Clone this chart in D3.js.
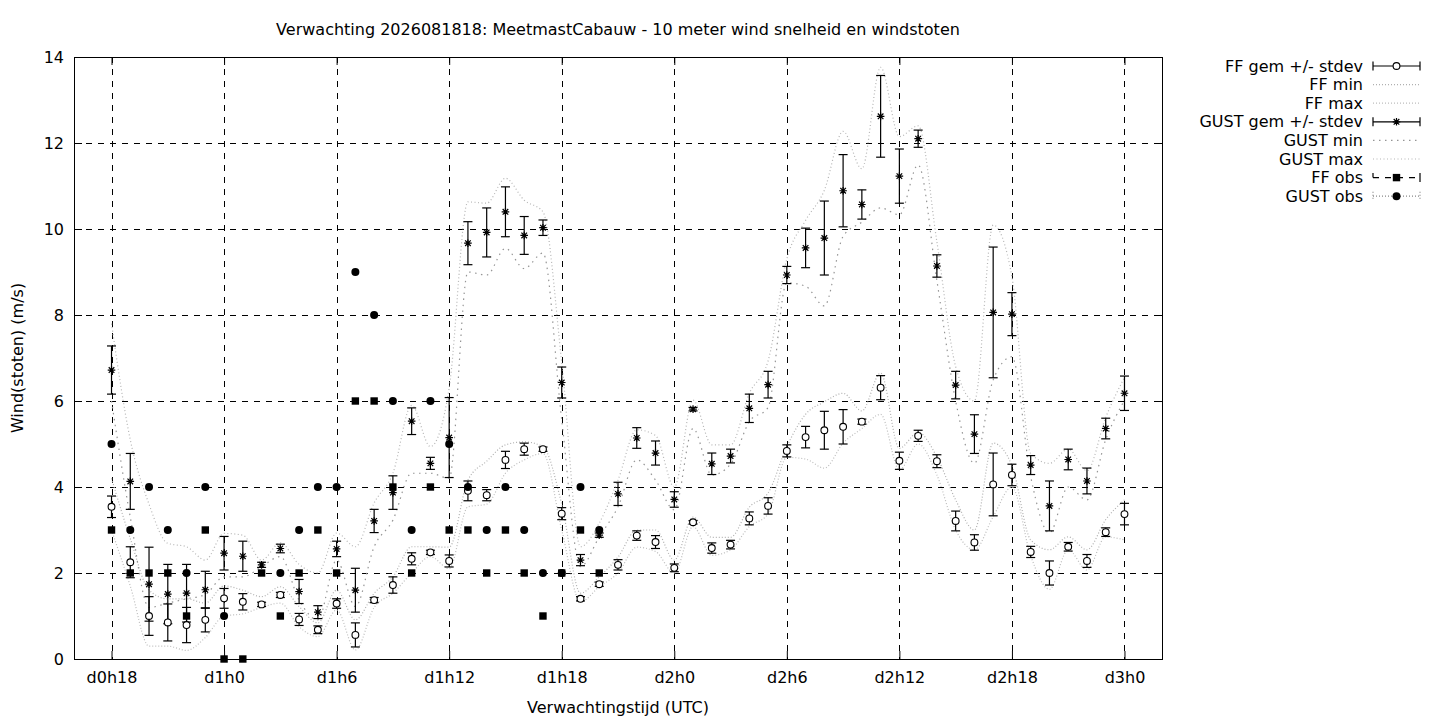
<!DOCTYPE html>
<html><head><meta charset="utf-8">
<script src="https://cdn.jsdelivr.net/npm/d3@7"></script>
<style>
body{margin:0;background:#fff}
svg{display:block}
text{font-family:"DejaVu Sans",sans-serif;fill:#000}
</style>
</head><body>
<svg id="c" width="1440" height="720"></svg>
<script>
// ---- data (hours since d0h0) ----
const hours = [18,19,20,21,22,23,24,25,26,27,28,29,30,31,32,33,34,35,36,37,38,39,40,41,42,43,44,45,46,47,48,49,50,51,52,53,54,55,56,57,58,59,60,61,62,63,64,65,66,67,68,69,70,71,72];
const ffMean = [3.54,2.25,1.00,0.85,0.79,0.91,1.41,1.33,1.27,1.49,0.92,0.68,1.29,0.56,1.37,1.72,2.33,2.48,2.28,3.91,3.81,4.63,4.88,4.88,3.38,1.40,1.74,2.19,2.87,2.72,2.12,3.18,2.58,2.66,3.27,3.56,4.84,5.16,5.32,5.40,5.52,6.31,4.61,5.19,4.60,3.21,2.71,4.06,4.28,2.49,2.00,2.61,2.28,2.95,3.37];
const ffSd   = [0.25,0.36,0.45,0.43,0.41,0.28,0.23,0.19,0.05,0.06,0.14,0.09,0.11,0.28,0.06,0.19,0.14,0.05,0.14,0.23,0.13,0.20,0.14,0.05,0.14,0.05,0.05,0.12,0.11,0.15,0.09,0.04,0.12,0.10,0.15,0.19,0.14,0.25,0.44,0.40,0.06,0.28,0.20,0.13,0.15,0.23,0.18,0.73,0.25,0.13,0.28,0.10,0.15,0.10,0.25];
const ffMin  = [3.0,1.7,0.3,0.3,0.2,0.5,1.0,1.05,1.2,1.3,0.75,0.52,1.14,0.21,1.2,1.53,2.0,2.38,2.1,3.54,3.6,4.32,4.63,4.78,3.0,1.33,1.68,2.0,2.6,2.5,2.0,3.08,2.41,2.54,3.08,3.37,4.69,4.65,4.44,5.02,5.36,5.69,4.4,5.0,4.28,3.0,2.54,3.31,4.0,2.4,1.62,2.54,2.07,2.84,2.77];
const ffMax  = [4.2,2.8,1.6,1.4,1.4,1.3,1.7,1.6,1.45,1.68,1.22,0.84,1.6,0.91,1.53,1.91,2.61,2.61,2.6,4.16,4.6,4.98,5.05,4.94,3.6,1.53,1.91,2.37,3.0,3.0,2.3,3.3,2.83,2.83,3.53,3.86,4.94,5.69,5.98,6.18,5.77,6.65,4.9,5.27,4.7,3.7,3.0,5.02,4.5,2.77,2.54,2.84,2.54,3.24,3.7];
const gustMean = [6.72,4.13,1.74,1.51,1.53,1.61,2.46,2.39,2.19,2.57,1.57,1.09,2.56,1.60,3.21,3.87,5.53,4.55,5.15,9.67,9.92,10.40,9.85,10.03,6.43,2.30,2.88,3.84,5.14,4.79,3.71,5.81,4.54,4.72,5.83,6.38,8.93,9.56,9.79,10.89,10.57,12.62,11.23,12.10,9.14,6.37,5.23,8.06,8.02,4.51,3.56,4.64,4.14,5.36,6.18];
const gustSd   = [0.56,0.65,0.86,0.69,0.67,0.43,0.39,0.35,0.06,0.10,0.28,0.15,0.18,0.51,0.27,0.39,0.31,0.14,0.93,0.50,0.57,0.58,0.44,0.18,0.36,0.13,0.05,0.27,0.24,0.28,0.18,0.04,0.25,0.16,0.33,0.31,0.20,0.46,0.86,0.84,0.34,0.95,0.63,0.20,0.26,0.32,0.45,1.52,0.50,0.22,0.58,0.24,0.30,0.24,0.40];
const gustMin  = [6.0,3.3,1.2,1.3,1.4,1.5,1.91,1.91,2.15,2.38,1.37,0.91,2.3,1.22,2.61,3.23,4.32,4.32,4.2,9.0,8.93,9.55,9.08,9.44,5.56,2.15,2.84,3.54,4.63,4.16,3.47,5.36,4.28,4.53,5.52,5.85,8.75,8.67,8.21,9.83,10.16,10.49,10.33,11.49,8.8,6.0,4.55,6.49,7.03,4.24,2.93,4.0,3.7,5.1,6.02];
const gustMax  = [7.8,5.1,3.6,2.69,2.61,2.3,2.92,2.88,2.3,2.7,2.2,2.0,2.93,2.61,3.63,4.32,5.9,4.94,6.3,10.63,10.6,11.18,10.67,10.4,6.9,2.61,3.16,4.16,5.33,5.2,4.0,6.02,4.98,4.98,6.18,6.93,9.3,10.2,10.9,12.27,11.4,13.76,12.15,12.4,9.7,6.8,6.0,10.09,8.89,4.78,4.55,4.88,4.38,5.62,6.55];
const obsHours = [18,19,20,21,22,23,24,25,26,27,28,29,30,31,32,33,34,35,36,37,38,39,40,41,42,43,44];
const ffObs   = [3,2,2,2,1,3,0,0,2,1,2,3,2,6,6,4,2,4,3,3,2,3,2,1,2,3,2];
const gustObs = [5,3,4,3,2,4,1,null,null,2,3,4,4,9,8,6,3,6,5,4,3,4,3,2,2,4,3];
const xTickHours  = [18,24,30,36,42,48,54,60,66,72];
const xTickLabels = ["d0h18","d1h0","d1h6","d1h12","d1h18","d2h0","d2h6","d2h12","d2h18","d3h0"];
const yTicks = [0,2,4,6,8,10,12,14];
const legendLabels = ["FF gem +/- stdev","FF min","FF max","GUST gem +/- stdev","GUST min","GUST max","FF obs","GUST obs"];
const titleText = "Verwachting 2026081818: MeetmastCabauw - 10 meter wind snelheid en windstoten";

// ---- layout ----
const L = 74, R = 1162, T = 57, B = 659;
const svg = d3.select("#c");
const x = d3.scaleLinear().domain([16, 74]).range([L, R]);
const y = d3.scaleLinear().domain([0, 14]).range([B, T]);
const FS = 16;

// grid
const grid = svg.append("g").attr("stroke", "#000").attr("stroke-width", 1).attr("stroke-dasharray", "6,6").attr("shape-rendering","crispEdges");
xTickHours.forEach(h => grid.append("line").attr("x1", Math.round(x(h))+0.5).attr("x2", Math.round(x(h))+0.5).attr("y1", T).attr("y2", B));
yTicks.slice(1, -1).forEach(v => grid.append("line").attr("y1", Math.round(y(v))+0.5).attr("y2", Math.round(y(v))+0.5).attr("x1", L).attr("x2", R));

// axes via d3 axis
const xAxis = d3.axisBottom(x).tickValues(xTickHours).tickFormat((d, i) => xTickLabels[i]).tickSizeInner(-8).tickSizeOuter(0).tickPadding(13);
const gx = svg.append("g").attr("transform", `translate(0,${B})`).call(xAxis);
gx.select(".domain").remove();
gx.selectAll("text").attr("font-size", FS).attr("font-family", "DejaVu Sans");
const gxTop = svg.append("g").attr("transform", `translate(0,${T})`).call(d3.axisTop(x).tickValues(xTickHours).tickFormat("").tickSizeInner(-8).tickSizeOuter(0));
gxTop.select(".domain").remove();
const yAxis = d3.axisLeft(y).tickValues(yTicks).tickSizeInner(-8).tickSizeOuter(0).tickPadding(10);
const gy = svg.append("g").attr("transform", `translate(${L},0)`).call(yAxis);
gy.select(".domain").remove();
gy.selectAll("text").attr("font-size", FS).attr("font-family", "DejaVu Sans");
const gyR = svg.append("g").attr("transform", `translate(${R},0)`).call(d3.axisRight(y).tickValues(yTicks).tickFormat("").tickSizeInner(-8).tickSizeOuter(0));
gyR.select(".domain").remove();
svg.selectAll(".tick line").attr("stroke", "#000");

// border
svg.append("rect").attr("x", L + 0.5).attr("y", T + 0.5).attr("width", R - L).attr("height", B - T)
  .attr("fill", "none").attr("stroke", "#000").attr("stroke-width", 1);

// envelope lines
const lineGen = d3.line().x(d => x(d[0])).y(d => y(d[1])).curve(d3.curveMonotoneX);
const envStyles = [
  {data: ffMin,   color: "#bdbdbd", dash: "1,2"},
  {data: ffMax,   color: "#b0b0b0", dash: "1,2"},
  {data: gustMin, color: "#959595", dash: "1.5,4.5"},
  {data: gustMax, color: "#b5b5b5", dash: "1,2.5"}
];
envStyles.forEach(s => {
  svg.append("path").datum(hours.map((h, i) => [h, s.data[i]]))
    .attr("d", lineGen).attr("fill", "none").attr("stroke", s.color)
    .attr("stroke-width", 1.2).attr("stroke-dasharray", s.dash);
});

// error bars
function errorBars(mean, sd) {
  const g = svg.append("g").attr("stroke", "#000").attr("stroke-width", 1.2);
  hours.forEach((h, i) => {
    const cx = x(h), y1 = y(mean[i] + sd[i]), y0 = y(mean[i] - sd[i]);
    g.append("line").attr("x1", cx).attr("x2", cx).attr("y1", y1).attr("y2", y0);
    g.append("line").attr("x1", cx - 4.5).attr("x2", cx + 4.5).attr("y1", y1).attr("y2", y1);
    g.append("line").attr("x1", cx - 4.5).attr("x2", cx + 4.5).attr("y1", y0).attr("y2", y0);
  });
}
errorBars(ffMean, ffSd);
errorBars(gustMean, gustSd);

// markers
function star(g, cx, cy) {
  const r = 3.8, d = 2.8;
  g.append("path").attr("d",
    `M${cx-r},${cy}L${cx+r},${cy}M${cx},${cy-r}L${cx},${cy+r}M${cx-d},${cy-d}L${cx+d},${cy+d}M${cx-d},${cy+d}L${cx+d},${cy-d}`)
    .attr("stroke", "#000").attr("stroke-width", 1.2).attr("fill", "none");
}
function openCircle(g, cx, cy) {
  g.append("circle").attr("cx", cx).attr("cy", cy).attr("r", 3.4).attr("fill", "#fff").attr("stroke", "#000").attr("stroke-width", 1.1);
}
function fillSquare(g, cx, cy) {
  g.append("rect").attr("x", cx - 3.7).attr("y", cy - 3.7).attr("width", 7.4).attr("height", 7.4).attr("fill", "#000");
}
function fillCircle(g, cx, cy) {
  g.append("circle").attr("cx", cx).attr("cy", cy).attr("r", 4).attr("fill", "#000");
}
const mk = svg.append("g");
hours.forEach((h, i) => openCircle(mk, x(h), y(ffMean[i])));
hours.forEach((h, i) => star(mk, x(h), y(gustMean[i])));
obsHours.forEach((h, i) => { if (ffObs[i] !== null) fillSquare(mk, x(h), y(ffObs[i])); });
obsHours.forEach((h, i) => { if (gustObs[i] !== null) fillCircle(mk, x(h), y(gustObs[i])); });

// title & axis labels
svg.append("text").attr("x", 618).attr("y", 35).attr("text-anchor", "middle").attr("font-size", FS).text(titleText);
svg.append("text").attr("x", 618).attr("y", 713).attr("text-anchor", "middle").attr("font-size", FS).text("Verwachtingstijd (UTC)");
svg.append("text").attr("transform", "translate(23,358) rotate(-90)").attr("text-anchor", "middle").attr("font-size", FS).text("Wind(stoten) (m/s)");

// legend
const lg = svg.append("g");
const lx0 = 1373, lx1 = 1420, lxm = (lx0 + lx1) / 2;
legendLabels.forEach((lab, i) => {
  const ly = 66 + i * 18.6;
  lg.append("text").attr("x", 1363).attr("y", ly + 5.5).attr("text-anchor", "end").attr("font-size", FS).text(lab);
  if (i === 0 || i === 3) {
    lg.append("line").attr("x1", lx0).attr("x2", lx1).attr("y1", ly).attr("y2", ly).attr("stroke", "#000").attr("stroke-width", 1.2);
    lg.append("line").attr("x1", lx0).attr("x2", lx0).attr("y1", ly - 4.5).attr("y2", ly + 4.5).attr("stroke", "#000").attr("stroke-width", 1.2);
    lg.append("line").attr("x1", lx1).attr("x2", lx1).attr("y1", ly - 4.5).attr("y2", ly + 4.5).attr("stroke", "#000").attr("stroke-width", 1.2);
    if (i === 0) openCircle(lg, lxm, ly); else star(lg, lxm, ly);
  } else if (i === 6) {
    lg.append("line").attr("x1", lx0).attr("x2", lx1).attr("y1", ly).attr("y2", ly).attr("stroke", "#000").attr("stroke-width", 1.2).attr("stroke-dasharray", "6,6");
    lg.append("line").attr("x1", lx0).attr("x2", lx0).attr("y1", ly - 4.5).attr("y2", ly).attr("stroke", "#000").attr("stroke-width", 1.2);
    lg.append("line").attr("x1", lx1).attr("x2", lx1).attr("y1", ly - 4.5).attr("y2", ly + 4.5).attr("stroke", "#000").attr("stroke-width", 1.2);
    fillSquare(lg, lxm, ly);
  } else if (i === 7) {
    lg.append("line").attr("x1", lx0).attr("x2", lx1).attr("y1", ly).attr("y2", ly).attr("stroke", "#888").attr("stroke-width", 1.2).attr("stroke-dasharray", "1,2");
    lg.append("line").attr("x1", lx0).attr("x2", lx0).attr("y1", ly - 4.5).attr("y2", ly + 4.5).attr("stroke", "#888").attr("stroke-width", 1.2).attr("stroke-dasharray", "1,2");
    lg.append("line").attr("x1", lx1).attr("x2", lx1).attr("y1", ly - 4.5).attr("y2", ly + 4.5).attr("stroke", "#888").attr("stroke-width", 1.2).attr("stroke-dasharray", "1,2");
    fillCircle(lg, lxm, ly);
  } else {
    const s = envStyles[[0,1,0,0,2,3][i]];
    lg.append("line").attr("x1", lx0).attr("x2", lx1).attr("y1", ly).attr("y2", ly)
      .attr("stroke", s.color).attr("stroke-width", 1.2).attr("stroke-dasharray", s.dash);
  }
});
</script>
</body></html>
